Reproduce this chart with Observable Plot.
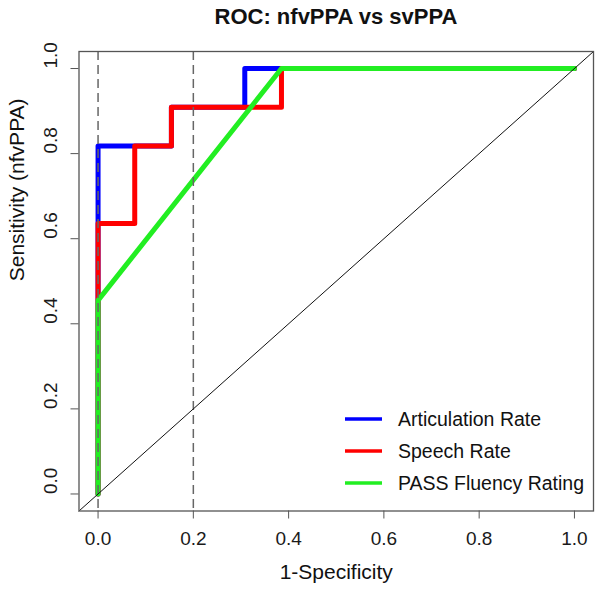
<!DOCTYPE html>
<html>
<head>
<meta charset="utf-8">
<script src="https://cdn.jsdelivr.net/npm/d3@7"></script>
<script src="https://cdn.jsdelivr.net/npm/@observablehq/plot@0.6"></script>
<style>
  html, body { margin: 0; padding: 0; background: #fff; }
  #wrap { width: 600px; height: 589px; font-family: "Liberation Sans", Arial, sans-serif; }
  #title { height: 34px; line-height: 34px; padding-left: 72px; text-align: center; font-weight: bold; font-size: 22px; color: #111; }
  svg { display: block; }
</style>
</head>
<body>
<div id="wrap">
  <div id="title">ROC: nfvPPA vs svPPA</div>
  <div id="chart"></div>
</div>
<script>
// ----- data -----
const seriesNames = ["Articulation Rate", "Speech Rate", "PASS Fluency Rating"];
const seriesColors = ["#0000ff", "#ff0000", "#22ee22"];

const articulationFpr = [0, 0, 0.077, 0.154, 0.154, 0.308, 0.308, 1];
const articulationTpr = [0, 0.818, 0.818, 0.818, 0.909, 0.909, 1, 1];

const speechFpr = [0, 0, 0.077, 0.077, 0.154, 0.154, 0.385, 0.385, 1];
const speechTpr = [0, 0.636, 0.636, 0.818, 0.818, 0.909, 0.909, 1, 1];

const passFpr = [0, 0, 0.385, 1];
const passTpr = [0, 0.455, 1, 1];

const cutoffLines = [0, 0.2];
const xTicks = [0, 0.2, 0.4, 0.6, 0.8, 1.0];
const yTicks = [0, 0.2, 0.4, 0.6, 0.8, 1.0];
const xLabel = "1-Specificity";
const yLabel = "Sensitivity (nfvPPA)";

// ----- build tables -----
const toRows = (fpr, tpr, name) => fpr.map((x, i) => ({x, y: tpr[i], name}));
const rows = [
  ...toRows(articulationFpr, articulationTpr, seriesNames[0]),
  ...toRows(speechFpr, speechTpr, seriesNames[1]),
  ...toRows(passFpr, passTpr, seriesNames[2])
];
const domain = [-0.04, 1.04];
const diag = [{x: domain[0], y: domain[0]}, {x: domain[1], y: domain[1]}];
const fmt = d3.format(".1f");
const font = "Liberation Sans, Arial, sans-serif";

const plot = Plot.plot({
  width: 600,
  height: 555,
  marginLeft: 78.5,
  marginRight: 7,
  marginTop: 17,
  marginBottom: 78.5,
  style: {fontFamily: font, background: "#fff", color: "#1a1a1a"},
  x: {domain, axis: null},
  y: {domain, axis: null},
  color: {domain: seriesNames, range: seriesColors},
  marks: [
    Plot.axisX({ticks: xTicks, tickSize: 8, tickPadding: 12, fontSize: 19, label: null, tickFormat: fmt, stroke: "#555"}),
    Plot.axisY({ticks: yTicks, tickSize: 8, label: null, tickFormat: () => "", stroke: "#555"}),
    Plot.text(yTicks, {y: d => d, text: d => fmt(d), frameAnchor: "left", dx: -28, rotate: -90, fontSize: 19, fill: "#1a1a1a"}),
    Plot.text([xLabel], {text: d => d, frameAnchor: "bottom", dy: 68, fontSize: 21, fill: "#111"}),
    Plot.text([yLabel], {text: d => d, frameAnchor: "left", dx: -62, rotate: -90, fontSize: 21, fill: "#111"}),
    ...seriesNames.map(n => Plot.line(rows.filter(r => r.name === n), {
      x: "x", y: "y", stroke: "name", strokeWidth: 5, strokeLinecap: "round", strokeLinejoin: "round"
    })),
    Plot.ruleX(cutoffLines, {stroke: "#666", strokeWidth: 1.5, strokeDasharray: "9,5"}),
    Plot.line(diag, {x: "x", y: "y", stroke: "#111", strokeWidth: 1}),
    Plot.frame({stroke: "#555", strokeWidth: 1.3})
  ]
});

// ----- legend (inside plot, bottom-right, no box) -----
const svg = d3.select(plot);
const lg = svg.append("g").attr("font-family", font).attr("font-size", 19.5).attr("fill", "#111").attr("text-anchor", "start");
const legendTop = 385, legendStep = 32, lineX1 = 345, lineX2 = 382, textX = 398;
seriesNames.forEach((n, i) => {
  const y = legendTop + i * legendStep;
  lg.append("line").attr("x1", lineX1).attr("x2", lineX2).attr("y1", y).attr("y2", y)
    .attr("stroke", seriesColors[i]).attr("stroke-width", 3.5);
  lg.append("text").attr("x", textX).attr("y", y).attr("dy", "0.35em").attr("text-anchor", "start").text(n);
});

document.getElementById("chart").appendChild(plot);
</script>
</body>
</html>
